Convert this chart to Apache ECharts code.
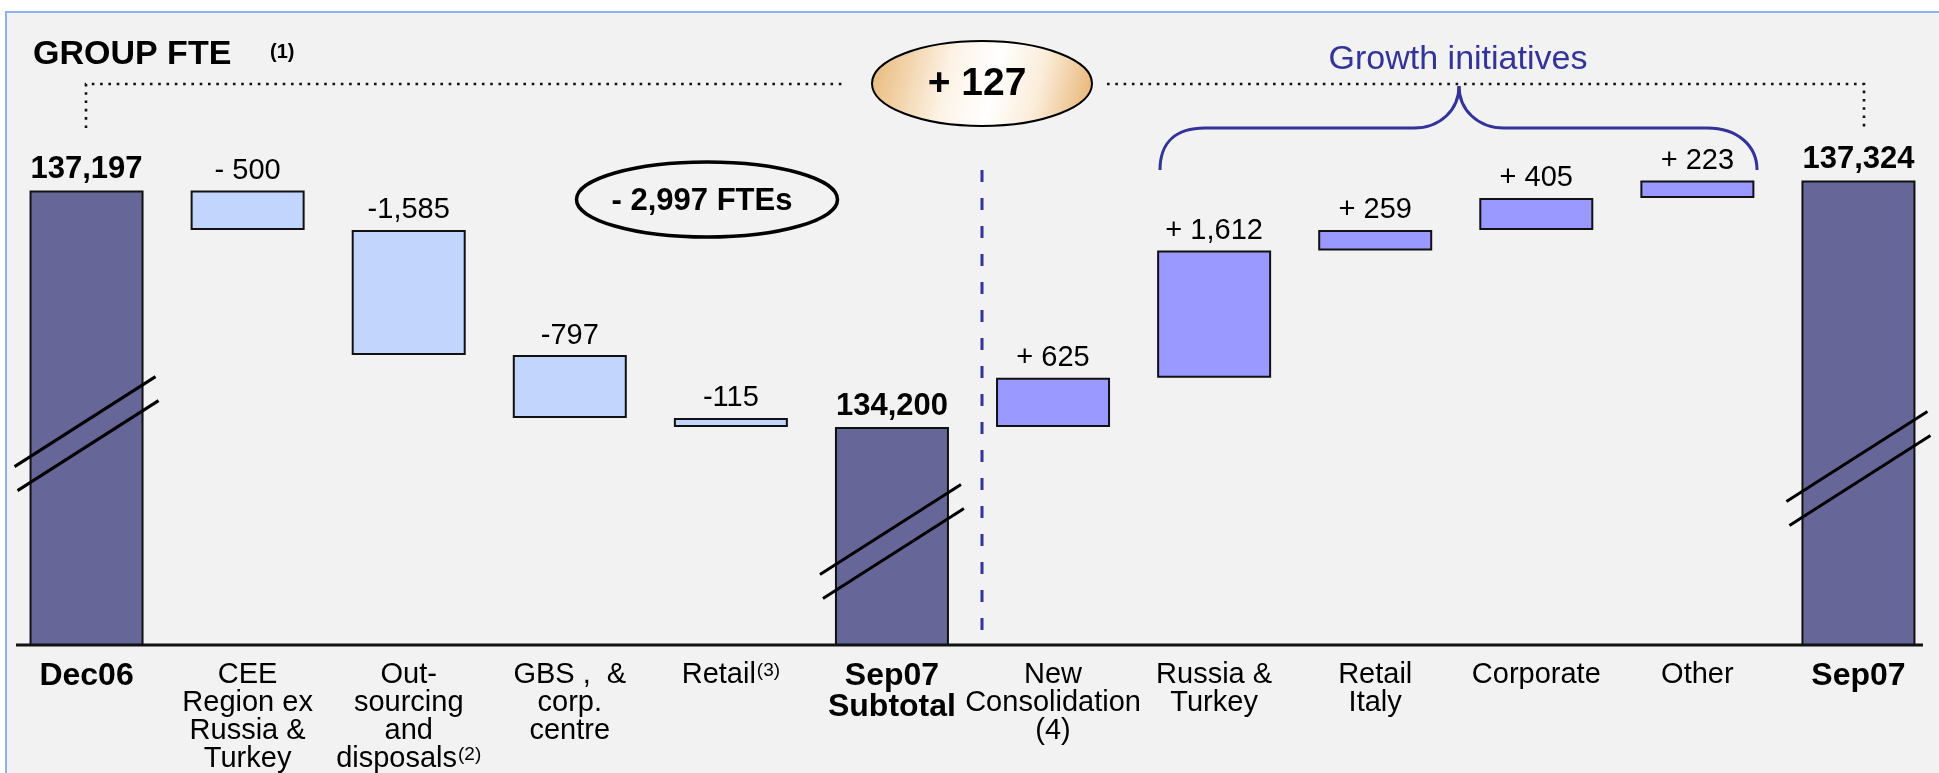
<!DOCTYPE html>
<html><head><meta charset="utf-8">
<script src="https://cdn.jsdelivr.net/npm/echarts/dist/echarts.min.js"></script>
<style>
html,body{margin:0;padding:0;background:#fff;overflow:hidden;}
#panel{position:absolute;left:5px;top:11px;width:1980px;height:820px;background:#f2f2f2;border-top:2px solid #8fb2ee;border-left:2px solid #8fb2ee;}
#chart{position:absolute;left:0;top:0;width:1939px;height:773px;}
</style></head><body>
<div id="panel"></div><div id="chart"></div>
<script>
// ---- data ----
const categories = ['Dec06','CEE\nRegion ex\nRussia &\nTurkey','Out-\nsourcing\nand\ndisposals','GBS ,  &\ncorp.\ncentre','Retail','Sep07\nSubtotal','New\nConsolidation\n(4)','Russia &\nTurkey','Retail\nItaly','Corporate','Other','Sep07'];
const footnotes = ['','','(2)','','(3)','','','','','','',''];
const totals  = [137197,null,null,null,null,134200,null,null,null,null,null,137324];
const changes = [null,-500,-1585,-797,-115,null,625,1612,259,405,223,null];
const valueLabels = ['137,197','- 500','-1,585','-797','-115','134,200','+ 625','+ 1,612','+ 259','+ 405','+ 223','137,324'];
const titleText = 'GROUP FTE';
const titleNote = '(1)';
const totalChangeText = '+ 127';
const leftChangeText = '- 2,997 FTEs';
const growthText = 'Growth initiatives';

// ---- styles ----
const FONT = "'Liberation Sans', Arial, Helvetica, sans-serif";
const Y_MIN = 131440, Y_MAX = 138000;
const STYLE = {
  totalColor:'#666699', decColor:'#c2d5fc', incColor:'#9999ff', border:'#111',
  breakFrac:{0:0.465, 5:0.475, 11:0.38}
};

// ---- build waterfall ----
const baseData=[], totalData=[], decData=[], incData=[];
let running = 0;
categories.forEach((c,i)=>{
  if (totals[i]!=null){ running = totals[i]; baseData.push(0); totalData.push(totals[i]); decData.push('-'); incData.push('-'); }
  else {
    const d = changes[i];
    totalData.push('-');
    if (d < 0){ running += d; baseData.push(running); decData.push(-d); incData.push('-'); }
    else { baseData.push(running); incData.push(d); decData.push('-'); running += d; }
  }
});
const breakData = totals.map((t,i)=> t!=null ? [i,t] : null).filter(Boolean);

function fmtCat(i){
  const lines = categories[i].split('\n');
  if (totals[i]!=null) return lines.map(l=>'{b|'+l+'}').join('\n');
  return categories[i] + (footnotes[i] ? '{sup|'+footnotes[i]+'}' : '');
}
const barBorder = {borderColor:STYLE.border, borderWidth:2};
function valLabel(bold){
  return {show:true, position:'top', distance:5, color:'#000', fontFamily:FONT,
    fontSize: bold?31:29, fontWeight: bold?'bold':'normal',
    formatter:p=>valueLabels[p.dataIndex]};
}

const braceStyle = {fill:null,stroke:'#333399',lineWidth:3};
const chart = echarts.init(document.getElementById('chart'), null, {renderer:'canvas'});
const option = {
  animation:false,
  backgroundColor:'transparent',
  textStyle:{fontFamily:FONT},
  grid:{left:6,right:0,top:127,bottom:128,containLabel:false,outerBoundsMode:'none'},
  xAxis:{type:'category',data:categories,axisLine:{show:false},axisTick:{show:false},splitLine:{show:false},
    axisLabel:{interval:0,margin:16,color:'#000',fontSize:29,lineHeight:28,fontFamily:FONT,hideOverlap:false,
      formatter:(v,i)=>fmtCat(i),
      rich:{
        b:{fontWeight:'bold',fontSize:32,lineHeight:31,color:'#000',fontFamily:FONT},
        sup:{fontSize:19,lineHeight:19,verticalAlign:'top',padding:[0,0,10,1],color:'#000',fontFamily:FONT}
      }}},
  yAxis:{type:'value',min:Y_MIN,max:Y_MAX,show:false,splitLine:{show:false}},
  series:[
    {name:'base',type:'bar',stack:'w',barWidth:114,silent:true,itemStyle:{color:'transparent',borderWidth:0},data:baseData},
    {name:'total',type:'bar',stack:'w',barWidth:114,itemStyle:Object.assign({color:STYLE.totalColor},barBorder),label:valLabel(true),data:totalData},
    {name:'decrease',type:'bar',stack:'w',barWidth:114,itemStyle:Object.assign({color:STYLE.decColor},barBorder),label:valLabel(false),data:decData},
    {name:'increase',type:'bar',stack:'w',barWidth:114,itemStyle:Object.assign({color:STYLE.incColor},barBorder),label:valLabel(false),data:incData},
    {name:'breaks',type:'custom',z:5,silent:true,data:breakData,encode:{x:0,y:1},
      renderItem:function(params, api){
        const idx = api.value(0), val = api.value(1);
        const top = api.coord([idx,val]), bot = api.coord([idx,Y_MIN]);
        const frac = STYLE.breakFrac[idx] || 0.45;
        const cx = top[0], cy = bot[1] - frac*(bot[1]-top[1]);
        const hx = 70.5, hy = 45;
        const mk = (ox,oy)=>({type:'line',shape:{x1:cx+ox-hx,y1:cy+oy+hy,x2:cx+ox+hx,y2:cy+oy-hy},style:{stroke:'#000',lineWidth:3}});
        return {type:'group',children:[mk(-1.5,-12),mk(1.5,12)]};
      }}
  ],
  graphic:[
    {type:'line',shape:{x1:16,y1:645,x2:1923,y2:645},style:{stroke:'#111',lineWidth:3},z:10},
    {type:'text',x:33,y:55,style:{text:titleText,font:'bold 34px '+FONT,fill:'#000',textAlign:'left',textVerticalAlign:'middle'}},
    {type:'text',x:270,y:52,style:{text:titleNote,font:'bold 20px '+FONT,fill:'#000',textAlign:'left',textVerticalAlign:'middle'}},
    {type:'polyline',shape:{points:[[86,128],[86,84],[843,84]]},style:{stroke:'#111',lineWidth:2.6,lineDash:[2.6,5.7],fill:null}},
    {type:'polyline',shape:{points:[[1107,84],[1864,84],[1864,128]]},style:{stroke:'#111',lineWidth:2.6,lineDash:[2.6,5.7],fill:null}},
    {type:'ellipse',shape:{cx:982,cy:83.5,rx:110,ry:42.5},style:{stroke:'#000',lineWidth:2,
      fill:{type:'linear',x:0,y:0.2,x2:1,y2:0.8,colorStops:[{offset:0,color:'#e8b878'},{offset:0.35,color:'#fdf3e6'},{offset:0.55,color:'#ffffff'},{offset:0.75,color:'#fbecd8'},{offset:1,color:'#e6b270'}]}}},
    {type:'text',x:977,y:84,style:{text:totalChangeText,font:'bold 39px '+FONT,fill:'#000',textAlign:'center',textVerticalAlign:'middle'}},
    {type:'ellipse',shape:{cx:707,cy:199.5,rx:130.5,ry:37.5},style:{stroke:'#000',lineWidth:3.5,fill:null}},
    {type:'text',x:702,y:201,style:{text:leftChangeText,font:'bold 31px '+FONT,fill:'#000',textAlign:'center',textVerticalAlign:'middle'}},
    {type:'text',x:1458,y:60,style:{text:growthText,font:'34px '+FONT,fill:'#333399',textAlign:'center',textVerticalAlign:'middle'}},
    {type:'bezierCurve',shape:{x1:1160,y1:170,cpx1:1160,cpy1:142,cpx2:1176,cpy2:128,x2:1205,y2:128},style:braceStyle},
    {type:'line',shape:{x1:1205,y1:128,x2:1414,y2:128},style:braceStyle},
    {type:'bezierCurve',shape:{x1:1414,y1:128,cpx1:1440,cpy1:128,cpx2:1459,cpy2:110,x2:1459,y2:86},style:braceStyle},
    {type:'bezierCurve',shape:{x1:1459,y1:86,cpx1:1459,cpy1:110,cpx2:1478,cpy2:128,x2:1504,y2:128},style:braceStyle},
    {type:'line',shape:{x1:1504,y1:128,x2:1707,y2:128},style:braceStyle},
    {type:'bezierCurve',shape:{x1:1707,y1:128,cpx1:1738,cpy1:128,cpx2:1757,cpy2:146,x2:1757,y2:170},style:braceStyle},
    {type:'line',shape:{x1:982,y1:170,x2:982,y2:633},style:{stroke:'#333399',lineWidth:3,lineDash:[12,16]}}
  ]
};
chart.setOption(option);
</script>
</body></html>
